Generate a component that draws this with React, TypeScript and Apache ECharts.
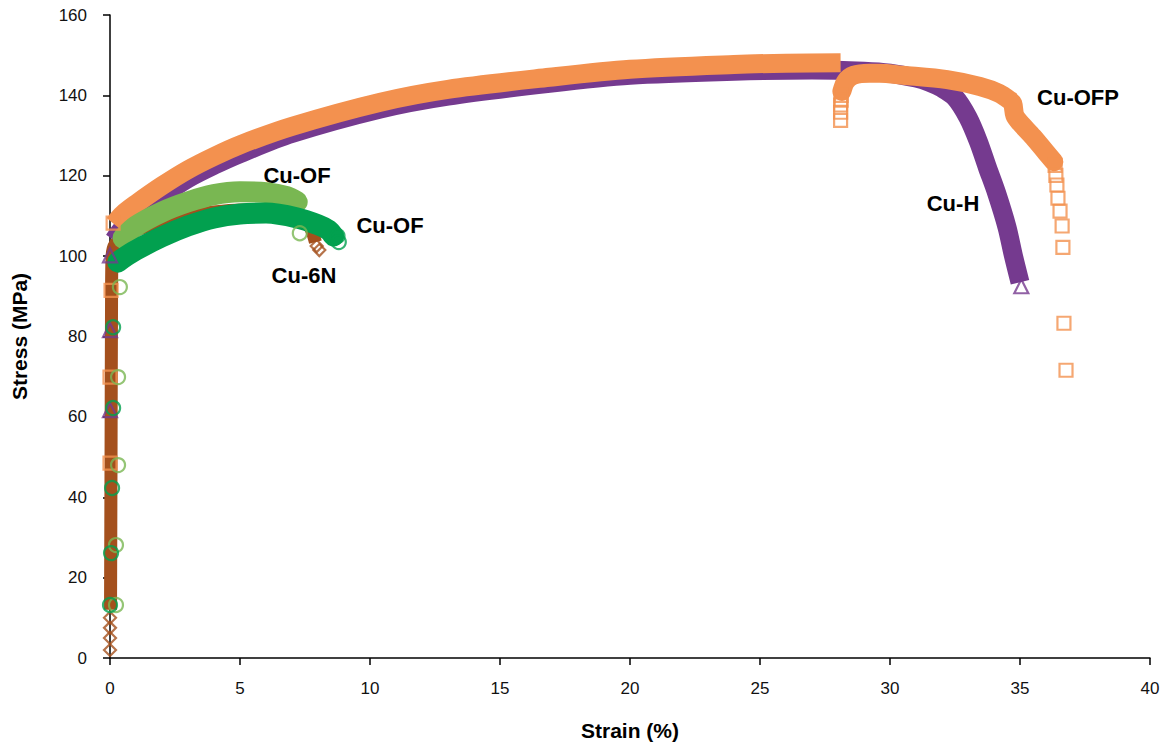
import React, { useEffect, useRef } from "react";
import * as echarts from "echarts";

// ---- Data (strain %, stress MPa) ----
const X_TICKS = [0, 5, 10, 15, 20, 25, 30, 35, 40];
const Y_TICKS = [0, 20, 40, 60, 80, 100, 120, 140, 160];

// Cu-6N (brown diamonds)
const N6_BAND: [number, number][] = [
  [0.02, 12], [0.04, 50], [0.06, 90], [0.08, 100], [0.2, 103], [0.6, 105], [1, 106.5],
  [2, 108.5], [3, 110], [4, 111], [5, 111.5], [6, 111.5], [7, 110.5], [7.5, 109],
  [7.75, 106.5], [7.9, 103.5],
];
const N6_MARKERS: [number, number][] = [
  [0, 10], [0, 7.5], [0, 5], [0, 2], [7.95, 102.5], [8.05, 101.5],
];

// Cu-H (purple triangles)
const H_BAND: [number, number][] = [
  [0.15, 104], [0.5, 107], [1, 110], [2, 115], [3, 119.3], [4, 122.6], [5, 125.5],
  [7, 130.5], [10.4, 136.6], [13, 139.8], [16.9, 143], [20, 145], [24, 146], [27, 146.3],
  [29, 146], [30, 145.5], [31, 144.3], [31.5, 143.3], [32, 141.8], [32.5, 139.5],
  [33, 134.5], [33.4, 128.5], [33.75, 122], [34.1, 115.7], [34.5, 107.2], [34.75, 100],
  [35, 93.5],
];
const H_MARKERS: [number, number][] = [
  [0, 100.2], [0, 81.6], [0, 61.7], [35.05, 92.5],
];

// Cu-OFP (orange squares)
const OFP_BAND_1: [number, number][] = [
  [0.15, 108], [0.5, 110.5], [1, 113], [2, 117.5], [3, 121.5], [4, 124.8], [5, 127.7],
  [7, 132.3], [10.4, 138.3], [13, 141.5], [16.9, 144.5], [20, 146.5], [24, 147.7],
  [26, 148], [28.1, 148.1],
];
const OFP_BAND_2: [number, number][] = [
  [28.15, 141], [28.3, 143.5], [28.6, 145], [29.2, 145.5], [29.6, 145.5], [30.5, 145],
  [32.2, 143.9], [33.46, 142.2], [34.2, 140.5], [34.6, 138.8], [34.72, 138], [34.8, 135],
  [35, 133.2], [35.5, 129.7], [36, 125.8], [36.3, 123.5],
];
const OFP_MARKERS: [number, number][] = [
  [0, 48.5], [0, 69.9], [0.04, 91.5], [0.12, 108.2],
  [28.1, 133.8], [28.1, 135.8], [28.1, 137.6], [28.12, 138.8], [28.12, 140],
  [36.35, 122.6], [36.38, 120.1], [36.42, 117.7], [36.46, 114.4], [36.54, 111.2],
  [36.62, 107.5], [36.65, 102.2], [36.69, 83.3], [36.77, 71.6],
];

// Cu-OF (light green circles)
const OFL_BAND: [number, number][] = [
  [0.5, 104.5], [1, 107.5], [2, 111], [3, 113.5], [4, 115.3], [5, 116], [6, 115.8],
  [6.8, 114.8], [7.2, 113.5],
];
const OFL_MARKERS: [number, number][] = [
  [0.38, 92.3], [0.31, 69.9], [0.31, 48], [0.23, 28.1], [0.23, 13.2], [7.3, 105.7],
];

// Cu-OF (dark green circles)
const OFD_BAND: [number, number][] = [
  [0.3, 98.5], [0.5, 99.5], [1, 101.5], [2, 104.8], [3, 107.5], [4, 109.5], [5, 110.5],
  [6, 110.7], [7.2, 109.5], [8, 107.8], [8.4, 106.5], [8.6, 105],
];
const OFD_MARKERS: [number, number][] = [
  [0.12, 82.3], [0.12, 62.2], [0.08, 42.3], [0.04, 26.1], [0, 13.2], [8.75, 105], [8.8, 103.5],
];

const LABELS = [
  { text: "Cu-OF", x: 297, y: 175 },
  { text: "Cu-OF", x: 390, y: 225 },
  { text: "Cu-6N", x: 304, y: 275 },
  { text: "Cu-H", x: 953, y: 203 },
  { text: "Cu-OFP", x: 1078, y: 97 },
];

const C_BROWN = "#A4501D";
const C_PURPLE = "#753A8F";
const C_ORANGE = "#F3914F";
const C_LGREEN = "#79B752";
const C_DGREEN = "#02A04F";

const FONT = "'Liberation Sans', Arial, sans-serif";

function band(data: [number, number][], color: string, width: number, cap: string) {
  return {
    type: "line",
    data,
    showSymbol: false,
    symbol: "none",
    smooth: 0.3,
    clip: false,
    silent: true,
    z: 2,
    lineStyle: { color, width, cap, join: "round" },
  };
}

function markers(data: [number, number][], color: string, symbol: string, size: number) {
  return {
    type: "scatter",
    data,
    symbol,
    symbolSize: size,
    clip: false,
    silent: true,
    z: 3,
    itemStyle: { color: "transparent", borderColor: color, borderWidth: 2.2 },
  };
}

export default function App() {
  const ref = useRef<HTMLDivElement>(null);

  useEffect(() => {
    if (!ref.current) return;
    const chart = echarts.init(ref.current, null, { renderer: "svg" });
    const axisCommon = {
      type: "value",
      axisLine: { show: true, onZero: true, lineStyle: { color: "#000", width: 1.5 } },
      axisTick: { show: true, inside: false, length: 7, lineStyle: { color: "#000", width: 1.5 } },
      splitLine: { show: false },
      nameLocation: "middle",
      nameTextStyle: { fontFamily: FONT, fontWeight: "bold", fontSize: 21, color: "#000" },
    };
    chart.setOption({
      animation: false,
      backgroundColor: "#fff",
      grid: { left: 110, right: 23, top: 15, bottom: 93, containLabel: false },
      xAxis: {
        ...axisCommon,
        min: X_TICKS[0],
        max: X_TICKS[X_TICKS.length - 1],
        interval: X_TICKS[1] - X_TICKS[0],
        name: "Strain (%)",
        nameGap: 62,
        axisLabel: { fontFamily: FONT, fontSize: 17, color: "#111", margin: 22 },
      },
      yAxis: {
        ...axisCommon,
        min: Y_TICKS[0],
        max: Y_TICKS[Y_TICKS.length - 1],
        interval: Y_TICKS[1] - Y_TICKS[0],
        name: "Stress (MPa)",
        nameGap: 80,
        axisLabel: { fontFamily: FONT, fontSize: 17, color: "#111", margin: 23 },
      },
      series: [
        band(N6_BAND, C_BROWN, 13, "butt"),
        markers(N6_MARKERS, C_BROWN, "diamond", 12),
        band(H_BAND, C_PURPLE, 19, "butt"),
        markers(H_MARKERS, C_PURPLE, "triangle", 14),
        band(OFP_BAND_1, C_ORANGE, 19, "butt"),
        band(OFP_BAND_2, C_ORANGE, 19, "round"),
        markers(OFP_MARKERS, C_ORANGE, "rect", 13),
        band(OFL_BAND, C_LGREEN, 21, "round"),
        markers(OFL_MARKERS, C_LGREEN, "circle", 14),
        band(OFD_BAND, C_DGREEN, 21, "round"),
        markers(OFD_MARKERS, C_DGREEN, "circle", 14),
      ],
      graphic: LABELS.map((l) => ({
        type: "text",
        x: l.x,
        y: l.y,
        silent: true,
        style: {
          text: l.text,
          fontFamily: FONT,
          fontWeight: "bold",
          fontSize: 22,
          fill: "#000",
          align: "center",
          verticalAlign: "middle",
        },
      })),
    });
    return () => chart.dispose();
  }, []);

  return (
    <div
      ref={ref}
      style={{ position: "fixed", left: 0, top: 0, width: 1173, height: 751, background: "#fff" }}
    />
  );
}
